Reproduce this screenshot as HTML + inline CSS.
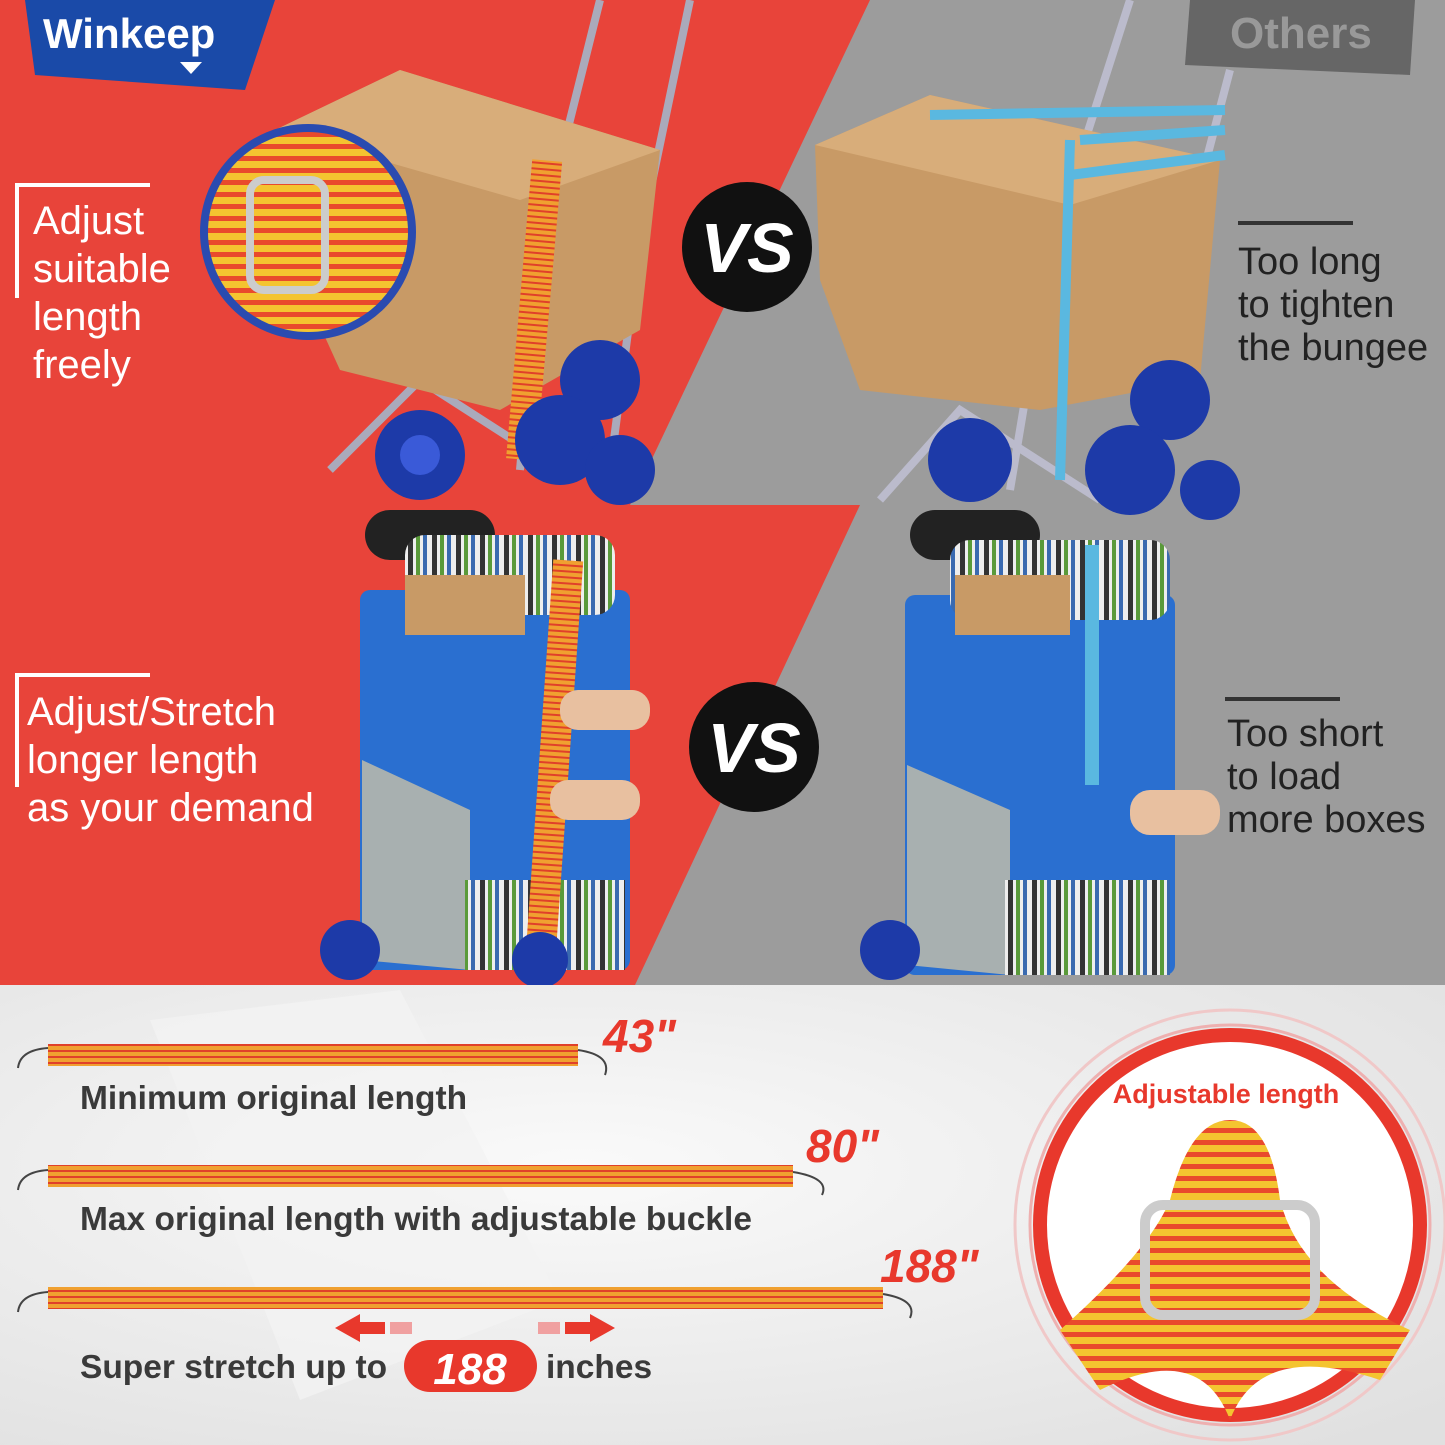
<!DOCTYPE html>
<html><head><meta charset="utf-8"><style>
html,body{margin:0;padding:0;width:1445px;height:1445px;overflow:hidden;background:#eee}
svg{display:block}
text{font-family:"Liberation Sans",sans-serif}
</style></head><body>
<svg width="1445" height="1445" viewBox="0 0 1445 1445" xmlns="http://www.w3.org/2000/svg">
<defs>
<pattern id="str" width="12" height="12" patternUnits="userSpaceOnUse"><rect width="12" height="12" fill="#f4c430"/><rect width="12" height="5" fill="#e94a2c"/></pattern>
<pattern id="hs" width="6" height="6" patternUnits="userSpaceOnUse"><rect width="6" height="6" fill="#f0a030"/><rect width="6" height="2" fill="#e0402a"/></pattern>
<pattern id="cush" width="24" height="24" patternUnits="userSpaceOnUse"><rect width="24" height="24" fill="#eee"/><rect x="0" width="5" height="24" fill="#333"/><rect x="8" width="4" height="24" fill="#5a9a3a"/><rect x="15" width="4" height="24" fill="#3a6ab0"/></pattern>
<radialGradient id="bg" cx="0.4" cy="0.4" r="0.8"><stop offset="0" stop-color="#fafafa"/><stop offset="1" stop-color="#e0e0e0"/></radialGradient>
</defs>
<rect x="0" y="0" width="1445" height="985" fill="#9c9c9c"/>
<polygon points="0,0 870,0 630,505 860,505 635,985 0,985" fill="#e8443a"/>
<g stroke="#aab" stroke-width="8" fill="none"><path d="M600,0 L540,240 L520,470"/><path d="M690,0 L640,240 L610,470"/><path d="M330,470 L420,380 L560,470"/></g>
<polygon points="275,130 400,70 660,150 640,330 500,410 340,370 290,260" fill="#c89a66"/>
<polygon points="275,130 400,70 660,150 520,200" fill="#d8ad7a"/>
<rect x="520" y="160" width="30" height="300" fill="url(#hs)" transform="rotate(5 535 300)"/>
<circle cx="420" cy="455" r="45" fill="#1d3aa8"/><circle cx="420" cy="455" r="20" fill="#3a5ad8"/>
<circle cx="600" cy="380" r="40" fill="#1d3aa8"/><circle cx="560" cy="440" r="45" fill="#1d3aa8"/><circle cx="620" cy="470" r="35" fill="#1d3aa8"/>
<circle cx="308" cy="232" r="108" fill="#2a4bb0"/><circle cx="308" cy="232" r="100" fill="url(#str)"/>
<rect x="250" y="180" width="75" height="110" rx="14" fill="none" stroke="#ccc" stroke-width="8"/>
<g stroke="#bbc" stroke-width="8" fill="none"><path d="M1130,0 L1050,250 L1010,490"/><path d="M1230,70 L1180,260 L1150,490"/><path d="M880,500 L960,410 L1100,500"/></g>
<polygon points="815,145 930,95 1220,160 1200,380 1040,410 860,390 820,280" fill="#c89a66"/>
<polygon points="815,145 930,95 1220,160 1070,205" fill="#d8ad7a"/>
<g stroke="#5ab8e0" stroke-width="10" fill="none"><path d="M930,115 L1225,110"/><path d="M1080,140 L1225,130"/><path d="M1070,175 L1225,155"/><path d="M1070,140 L1060,480"/></g>
<circle cx="970" cy="460" r="42" fill="#1d3aa8"/><circle cx="1170" cy="400" r="40" fill="#1d3aa8"/><circle cx="1130" cy="470" r="45" fill="#1d3aa8"/><circle cx="1210" cy="490" r="30" fill="#1d3aa8"/>
<polygon points="25,0 275,0 245,90 35,75" fill="#1a4aa8"/>
<text x="43" y="48" font-size="42" font-weight="bold" fill="#fff">Winkeep</text>
<polygon points="180,62 202,62 191,74" fill="#fff"/>
<polygon points="1190,0 1415,0 1410,75 1185,65" fill="#666"/>
<text x="1230" y="48" font-size="44" font-weight="bold" fill="#999">Others</text>
<path d="M17,298 V185 H150" stroke="#fff" stroke-width="4" fill="none"/>
<g font-size="40" fill="#fff"><text x="33" y="234">Adjust</text><text x="33" y="282">suitable</text><text x="33" y="330">length</text><text x="33" y="378">freely</text></g>
<path d="M17,787 V675 H150" stroke="#fff" stroke-width="4" fill="none"/>
<g font-size="40" fill="#fff"><text x="27" y="725">Adjust/Stretch</text><text x="27" y="773">longer length</text><text x="27" y="821">as your demand</text></g>
<rect x="1238" y="221" width="115" height="4" fill="#333"/>
<g font-size="38" fill="#222"><text x="1238" y="274">Too long</text><text x="1238" y="317">to tighten</text><text x="1238" y="360">the bungee</text></g>
<rect x="1225" y="697" width="115" height="4" fill="#333"/>
<g font-size="38" fill="#222"><text x="1227" y="746">Too short</text><text x="1227" y="789">to load</text><text x="1227" y="832">more boxes</text></g>
<circle cx="747" cy="247" r="65" fill="#111"/>
<text x="747" y="272" font-size="70" font-weight="bold" font-style="italic" fill="#fff" text-anchor="middle">VS</text>
<circle cx="754" cy="747" r="65" fill="#111"/>
<text x="754" y="772" font-size="70" font-weight="bold" font-style="italic" fill="#fff" text-anchor="middle">VS</text>
<rect x="365" y="510" width="130" height="50" rx="25" fill="#222"/>
<rect x="360" y="590" width="270" height="380" rx="10" fill="#2a6fd0"/>
<polygon points="362,760 470,810 470,970 362,960" fill="#a8b0b0"/>
<rect x="465" y="880" width="160" height="90" fill="url(#cush)"/>
<rect x="405" y="535" width="210" height="80" rx="20" fill="url(#cush)"/>
<rect x="405" y="575" width="120" height="60" fill="#c89a66"/>
<rect x="540" y="560" width="30" height="380" fill="url(#hs)" transform="rotate(4 555 750)"/>
<circle cx="350" cy="950" r="30" fill="#1d3aa8"/><circle cx="540" cy="960" r="28" fill="#1d3aa8"/>
<rect x="910" y="510" width="130" height="50" rx="25" fill="#222"/>
<rect x="905" y="595" width="270" height="380" rx="10" fill="#2a6fd0"/>
<polygon points="907,765 1010,810 1010,975 907,965" fill="#a8b0b0"/>
<rect x="1005" y="880" width="165" height="95" fill="url(#cush)"/>
<rect x="950" y="540" width="220" height="80" rx="20" fill="url(#cush)"/>
<rect x="955" y="575" width="115" height="60" fill="#c89a66"/>
<rect x="1085" y="545" width="14" height="240" fill="#5ab8e0"/>
<rect x="1130" y="790" width="90" height="45" rx="20" fill="#e8c0a0"/>
<rect x="560" y="690" width="90" height="40" rx="18" fill="#e8c0a0"/><rect x="550" y="780" width="90" height="40" rx="18" fill="#e8c0a0"/>
<circle cx="890" cy="950" r="30" fill="#1d3aa8"/>
<rect x="0" y="985" width="1445" height="460" fill="url(#bg)"/>
<polygon points="150,1020 400,990 560,1300 300,1400" fill="#f3f3f3" opacity="0.8"/>
<g>
<rect x="48" y="1044" width="530" height="22" fill="url(#hs)"/>
<path d="M48,1048 Q20,1050 18,1068" stroke="#444" stroke-width="2" fill="none"/>
<path d="M578,1050 Q612,1055 605,1075" stroke="#444" stroke-width="2" fill="none"/>
<rect x="48" y="1165" width="745" height="22" fill="url(#hs)"/>
<path d="M48,1170 Q20,1172 18,1190" stroke="#444" stroke-width="2" fill="none"/>
<path d="M793,1172 Q830,1178 822,1195" stroke="#444" stroke-width="2" fill="none"/>
<rect x="48" y="1287" width="835" height="22" fill="url(#hs)"/>
<path d="M48,1292 Q20,1294 18,1312" stroke="#444" stroke-width="2" fill="none"/>
<path d="M883,1294 Q918,1300 910,1318" stroke="#444" stroke-width="2" fill="none"/>
</g>
<g font-size="46" font-weight="bold" font-style="italic" fill="#e8382c">
<text x="603" y="1052">43"</text><text x="806" y="1162">80"</text><text x="880" y="1282">188"</text></g>
<g font-size="33.5" font-weight="bold" fill="#3a3a3a">
<text x="80" y="1109">Minimum original length</text>
<text x="80" y="1230">Max original length with adjustable buckle</text>
<text x="80" y="1378">Super stretch up to</text>
<text x="546" y="1378">inches</text></g>
<rect x="404" y="1340" width="133" height="52" rx="26" fill="#e8382c"/>
<text x="470" y="1384" font-size="44" font-weight="bold" font-style="italic" fill="#fff" text-anchor="middle">188</text>
<polygon points="335,1328 360,1314 360,1322 385,1322 385,1334 360,1334 360,1342" fill="#e8382c"/>
<polygon points="615,1328 590,1314 590,1322 565,1322 565,1334 590,1334 590,1342" fill="#e8382c"/>
<rect x="390" y="1322" width="22" height="12" fill="#f0a0a0"/><rect x="538" y="1322" width="22" height="12" fill="#f0a0a0"/>
<circle cx="1230" cy="1225" r="215" fill="none" stroke="#f0c8c8" stroke-width="3"/>
<circle cx="1230" cy="1225" r="200" fill="none" stroke="#eeb0b0" stroke-width="3"/>
<circle cx="1230" cy="1225" r="190" fill="#fff" stroke="#e8382c" stroke-width="14"/>
<text x="1226" y="1103" font-size="27" font-weight="bold" fill="#e8382c" text-anchor="middle">Adjustable length</text>
<path d="M1060,1330 Q1150,1250 1170,1200 Q1190,1120 1230,1120 Q1270,1120 1280,1200 Q1300,1280 1410,1330 L1380,1380 Q1260,1340 1230,1420 Q1200,1340 1100,1390 Z" fill="url(#str)"/>
<rect x="1145" y="1205" width="170" height="110" rx="18" fill="none" stroke="#ccc" stroke-width="10"/>
</svg>
</body></html>
